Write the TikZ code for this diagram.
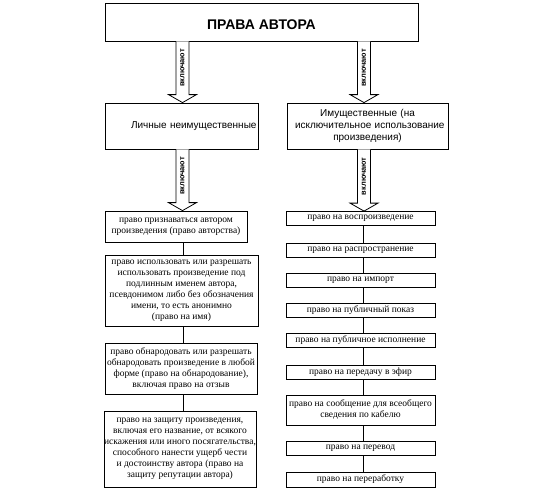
\documentclass[tikz,border=0pt]{standalone}
\usepackage{fontspec}
\setmainfont{Liberation Serif}
\newfontfamily\arialfont{Liberation Sans}
\usetikzlibrary{calc}

\tikzset{
  leaf/.style={draw,align=center,inner sep=0pt,font=\fontsize{9.5}{11}\selectfont},
  kind/.style={draw,inner sep=0pt,font=\arialfont\fontsize{10}{12}\selectfont},
}

% hollow block arrow with the word "включают"
\newcommand{\incarrow}[2]{%
  \coordinate (s) at (#1);
  \coordinate (e) at (#2);
  \draw[fill=white] ([xshift=-6.5pt]s) -- ([xshift=-6.5pt,yshift=8pt]e) -- ([xshift=-14pt,yshift=8pt]e)
    -- (e) -- ([xshift=14pt,yshift=8pt]e) -- ([xshift=6.5pt,yshift=8pt]e) -- ([xshift=6.5pt]s);
  \node[rotate=90,inner sep=0pt,font=\arialfont\bfseries\fontsize{7.5}{7.5}\selectfont]
    at ($(s)!0.5!([yshift=8pt]e)$) {включают};
}

\begin{document}
\begin{tikzpicture}[x=1pt,y=-1pt,line width=0.8pt]
  \useasboundingbox (0,0) rectangle (545,488);

  \coordinate (la) at (182.5,0);
  \coordinate (ra) at (364,0);
  \coordinate (lx) at (183,0);
  \coordinate (rx) at (363.5,0);

  \node[draw,minimum width=313pt,minimum height=38pt,text height=15pt,text depth=0pt,font=\arialfont\bfseries\fontsize{14}{14}\selectfont] (title) at (261.5,22) {ПРАВА АВТОРА};

  \node[kind,minimum width=153pt,minimum height=46pt,text width=150pt,align=right] (pers) at (181.5,126) {Личные неимущественные};
  \node[kind,minimum width=161pt,minimum height=46pt,text width=145pt,align=center] (prop) at (367.5,126) {Имущественные (на\\\mbox{исключительное использование}\\произведения)};

  % personal rights
  \node[leaf,minimum width=142pt,minimum height=31pt] (l1) at (176,226.5) {право признаваться автором\\произведения (право авторства)};
  \node[leaf,minimum width=153pt,minimum height=71pt] (l2) at (181.5,290.5) {право использовать или разрешать\\использовать произведение под\\подлинным именем автора,\\псевдонимом либо без обозначения\\имени, то есть анонимно\\(право на имя)};
  \node[leaf,minimum width=152pt,minimum height=51pt] (l3) at (181,368.5) {право обнародовать или разрешать\\обнародовать произведение в любой\\форме (право на обнародование),\\включая право на отзыв};
  \node[leaf,minimum width=150pt,minimum height=76pt] (l4) at (180,449) {право на защиту произведения,\\включая его название, от всякого\\искажения или иного посягательства,\\способного нанести ущерб чести\\и достоинству автора (право на\\защиту репутации автора)};

  % property rights
  \node[leaf,minimum width=149pt,minimum height=14pt] (r1) at (360.5,218.5) {право на воспроизведение};
  \node[leaf,minimum width=149pt,minimum height=14pt] (r2) at (360.5,250) {право на распространение};
  \node[leaf,minimum width=149pt,minimum height=14pt] (r3) at (360.5,280) {право на импорт};
  \node[leaf,minimum width=149pt,minimum height=14pt] (r4) at (360.5,310) {право на публичный показ};
  \node[leaf,minimum width=149pt,minimum height=14pt] (r5) at (360.5,340) {право на публичное исполнение};
  \node[leaf,minimum width=149pt,minimum height=14pt] (r6) at (360.5,372) {право на передачу в эфир};
  \node[leaf,minimum width=149pt,minimum height=30pt] (r7) at (360.5,410) {право на сообщение для всеобщего\\сведения по кабелю};
  \node[leaf,minimum width=149pt,minimum height=14pt] (r8) at (360.5,448.5) {право на перевод};
  \node[leaf,minimum width=149pt,minimum height=15pt] (r9) at (360.5,479.5) {право на переработку};

  \draw (l1.south -| lx) -- (l2.north -| lx);
  \draw (l2.south -| lx) -- (l3.north -| lx);
  \draw (l3.south -| lx) -- (l4.north -| lx);

  \draw (r1.south -| rx) -- (r2.north -| rx);
  \draw (r2.south -| rx) -- (r3.north -| rx);
  \draw (r3.south -| rx) -- (r4.north -| rx);
  \draw (r4.south -| rx) -- (r5.north -| rx);
  \draw (r5.south -| rx) -- (r6.north -| rx);
  \draw (r6.south -| rx) -- (r7.north -| rx);
  \draw (r7.south -| rx) -- (r8.north -| rx);
  \draw (r8.south -| rx) -- (r9.north -| rx);

  \incarrow{title.south -| la}{pers.north -| la}
  \incarrow{title.south -| ra}{prop.north -| ra}
  \incarrow{pers.south -| la}{l1.north -| la}
  \incarrow{prop.south -| ra}{r1.north -| ra}

\end{tikzpicture}
\end{document}
